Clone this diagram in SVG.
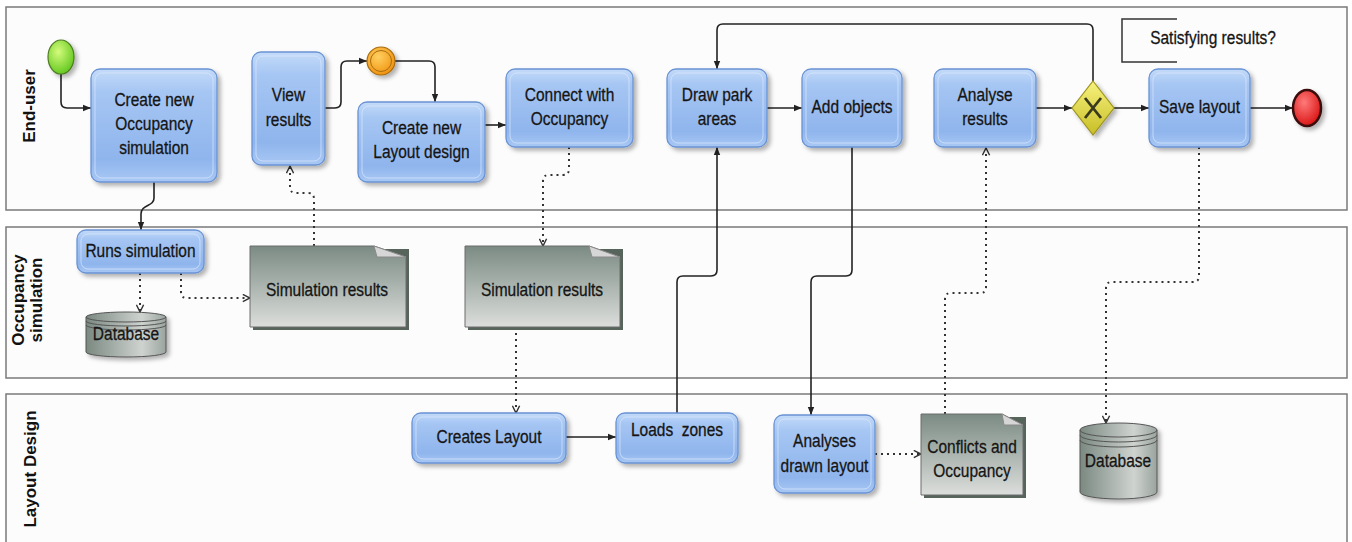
<svg xmlns="http://www.w3.org/2000/svg" width="1352" height="542" viewBox="0 0 1352 542">
  <defs>
    <linearGradient id="taskFill" x1="0" y1="0" x2="0" y2="1">
      <stop offset="0" stop-color="#c4dbf9"/>
      <stop offset="0.2" stop-color="#a6c6f3"/>
      <stop offset="0.8" stop-color="#8fb5ed"/>
      <stop offset="1" stop-color="#a9c8f4"/>
    </linearGradient>
    <linearGradient id="dataFill" x1="0" y1="0" x2="0" y2="1">
      <stop offset="0" stop-color="#7b8b83"/>
      <stop offset="1" stop-color="#dcdedc"/>
    </linearGradient>
    <linearGradient id="dbFill" x1="0" y1="0" x2="1" y2="0">
      <stop offset="0" stop-color="#7a8981"/>
      <stop offset="0.7" stop-color="#cfd3cf"/>
      <stop offset="1" stop-color="#9aa49f"/>
    </linearGradient>
    <linearGradient id="gateFill" x1="0" y1="0" x2="0" y2="1">
      <stop offset="0" stop-color="#f7f27e"/>
      <stop offset="1" stop-color="#c8be26"/>
    </linearGradient>
    <radialGradient id="startFill" cx="0.4" cy="0.35" r="0.7">
      <stop offset="0" stop-color="#d4fb7c"/>
      <stop offset="1" stop-color="#5fc61c"/>
    </radialGradient>
    <radialGradient id="midFill" cx="0.4" cy="0.35" r="0.7">
      <stop offset="0" stop-color="#ffd060"/>
      <stop offset="1" stop-color="#f0900c"/>
    </radialGradient>
    <radialGradient id="endFill" cx="0.4" cy="0.35" r="0.7">
      <stop offset="0" stop-color="#ff7a7a"/>
      <stop offset="1" stop-color="#d81010"/>
    </radialGradient>
    <filter id="shadow" x="-20%" y="-20%" width="150%" height="150%">
      <feDropShadow dx="3" dy="3" stdDeviation="2" flood-color="#000" flood-opacity="0.3"/>
    </filter>
    <marker id="arrow" viewBox="0 0 10 10" refX="10" refY="5" markerWidth="8" markerHeight="8" markerUnits="userSpaceOnUse" orient="auto">
      <path d="M0,1 L10,5 L0,9 Z" fill="#222"/>
    </marker>
    <marker id="open" viewBox="0 0 10 10" refX="9" refY="5" markerWidth="9" markerHeight="9" markerUnits="userSpaceOnUse" orient="auto">
      <path d="M1,1 L9,5 L1,9" fill="none" stroke="#333" stroke-width="1.6"/>
    </marker>
  </defs>
  <style>
    .lane { fill: #fcfcfc; stroke: #7a7a7a; stroke-width: 1.5; }
    .laneLabel { font-family: "Liberation Sans", Arial, sans-serif; font-size: 17px; font-weight: bold; fill: #111; text-anchor: middle; }
    .task { fill: url(#taskFill); stroke: #6a93d4; stroke-width: 1.3; filter: url(#shadow); }
    .taskInner { fill: none; stroke: #dbe8fb; stroke-opacity: 0.7; stroke-width: 1; }
    .t { font-family: "Liberation Sans", Arial, sans-serif; font-size: 15.5px; fill: #151515; stroke: #151515; stroke-width: 0.25; text-anchor: middle; }
    .dataBack { fill: #56645c; }
    .data { fill: url(#dataFill); stroke: #6c6c6c; stroke-width: 1; }
    .fold { fill: #d6d6d6; stroke: #8a8a8a; stroke-width: 1; }
    .db { fill: url(#dbFill); stroke: #555; stroke-width: 1; filter: url(#shadow); }
    .dbLine { fill: none; stroke: #555; stroke-width: 1; }
    .flow { fill: none; stroke: #222; stroke-width: 1.6; marker-end: url(#arrow); }
    .assoc { fill: none; stroke: #333; stroke-width: 2; stroke-dasharray: 2 4; marker-end: url(#open); }
  </style>

  <!-- swimlanes -->
  <g id="lanes">
    <rect class="lane" x="6" y="7" width="1341" height="203"/>
    <rect class="lane" x="6" y="227" width="1341" height="151"/>
    <rect class="lane" x="6" y="394" width="1341" height="152"/>
    <text class="laneLabel" transform="translate(35,106) rotate(-90)">End-user</text>
    <text class="laneLabel" transform="translate(24,300) rotate(-90)">Occupancy</text>
    <text class="laneLabel" transform="translate(42,300) rotate(-90)">simulation</text>
    <text class="laneLabel" transform="translate(36,469) rotate(-90)">Layout Design</text>
  </g>

  <!-- connectors -->
  <g id="connectors">
    <path class="flow" d="M61,74 V102 Q61,108 67,108 H91"/>
    <path class="flow" d="M154,182 V198 C154,207 141,204 141,214 V230"/>
    <path class="flow" d="M325,108 H335 Q341,108 341,102 V67 Q341,61 347,61 H367"/>
    <path class="flow" d="M395,61 H429 Q435,61 435,67 V102"/>
    <path class="flow" d="M485,125 H506"/>
    <path class="flow" d="M767,108 H802"/>
    <path class="flow" d="M1036,108 H1072"/>
    <path class="flow" d="M1114,108 H1149"/>
    <path class="flow" d="M1250,108 H1293"/>
    <path class="flow" d="M1093,81 V30 Q1093,24 1087,24 H723 Q717,24 717,30 V69"/>
    <path class="flow" d="M677,413 V282 Q677,276 683,276 H711 Q717,276 717,270 V147"/>
    <path class="flow" d="M852,147 V270 Q852,276 846,276 H817 Q811,276 811,282 V415"/>
    <path class="flow" d="M566,437 H616"/>

    <path class="assoc" d="M140,273 V312"/>
    <path class="assoc" d="M181,273 V292 Q181,298 187,298 H250"/>
    <path class="assoc" d="M314,246 V199 Q314,193 308,193 H296 Q290,193 290,187 V166"/>
    <path class="assoc" d="M569,147 V169 Q569,175 563,175 H549 Q543,175 543,181 V246"/>
    <path class="assoc" d="M516,327 V413"/>
    <path class="assoc" d="M875,454 H921"/>
    <path class="assoc" d="M945,414 V299 Q945,293 951,293 H980 Q986,293 986,287 V148"/>
    <path class="assoc" d="M1199,147 V276 Q1199,282 1193,282 H1112 Q1106,282 1106,288 V423"/>
  </g>

  <!-- End-user lane -->
  <g id="start">
    <ellipse cx="61" cy="57" rx="13" ry="17" fill="url(#startFill)" stroke="#4d7a22" stroke-width="1.2" filter="url(#shadow)"/>
  </g>
  <g id="create-occupancy">
    <rect class="task" x="91" y="69" width="126" height="113" rx="9"/>
    <rect class="taskInner" x="95" y="73" width="118" height="105" rx="7"/>
    <text class="t" transform="translate(154,106) scale(1,1.15)">Create new</text>
    <text class="t" transform="translate(154,130) scale(1,1.15)">Occupancy</text>
    <text class="t" transform="translate(154,154) scale(1,1.15)">simulation</text>
  </g>
  <g id="view-results">
    <rect class="task" x="252" y="52" width="73" height="113" rx="9"/>
    <rect class="taskInner" x="256" y="56" width="65" height="105" rx="7"/>
    <text class="t" transform="translate(288.5,101) scale(1,1.15)">View</text>
    <text class="t" transform="translate(288.5,126) scale(1,1.15)">results</text>
  </g>
  <g id="intermediate">
    <ellipse cx="381" cy="61" rx="14" ry="14" fill="url(#midFill)" stroke="#a86c10" stroke-width="1.2" filter="url(#shadow)"/>
    <ellipse cx="381" cy="61" rx="10.5" ry="10.5" fill="none" stroke="#a86c10" stroke-width="1"/>
  </g>
  <g id="create-layout">
    <rect class="task" x="358" y="102" width="127" height="80" rx="9"/>
    <rect class="taskInner" x="362" y="106" width="119" height="72" rx="7"/>
    <text class="t" transform="translate(421.5,134) scale(1,1.15)">Create new</text>
    <text class="t" transform="translate(421.5,158) scale(1,1.15)">Layout design</text>
  </g>
  <g id="connect-occupancy">
    <rect class="task" x="506" y="69" width="127" height="78" rx="9"/>
    <rect class="taskInner" x="510" y="73" width="119" height="70" rx="7"/>
    <text class="t" transform="translate(569.5,101) scale(1,1.15)">Connect with</text>
    <text class="t" transform="translate(569.5,125) scale(1,1.15)">Occupancy</text>
  </g>
  <g id="draw-park">
    <rect class="task" x="667" y="69" width="100" height="78" rx="9"/>
    <rect class="taskInner" x="671" y="73" width="92" height="70" rx="7"/>
    <text class="t" transform="translate(717,101) scale(1,1.15)">Draw park</text>
    <text class="t" transform="translate(717,125) scale(1,1.15)">areas</text>
  </g>
  <g id="add-objects">
    <rect class="task" x="802" y="69" width="100" height="78" rx="9"/>
    <rect class="taskInner" x="806" y="73" width="92" height="70" rx="7"/>
    <text class="t" transform="translate(852,113) scale(1,1.15)">Add objects</text>
  </g>
  <g id="analyse-results">
    <rect class="task" x="934" y="69" width="102" height="78" rx="9"/>
    <rect class="taskInner" x="938" y="73" width="94" height="70" rx="7"/>
    <text class="t" transform="translate(985,101) scale(1,1.15)">Analyse</text>
    <text class="t" transform="translate(985,125) scale(1,1.15)">results</text>
  </g>
  <g id="gateway">
    <polygon points="1093,81 1114,108 1093,135 1072,108" fill="url(#gateFill)" stroke="#9d9420" stroke-width="1.2" filter="url(#shadow)"/>
    <path d="M1085,98 L1101,118 M1101,98 L1085,118" stroke="#3a3a1c" stroke-width="2.8" fill="none"/>
  </g>
  <g id="annotation">
    <path d="M1177,19 H1122 V62 H1177" fill="none" stroke="#333" stroke-width="1.5"/>
    <text class="t" transform="translate(1213,44) scale(1,1.15)">Satisfying results?</text>
  </g>
  <g id="save-layout">
    <rect class="task" x="1149" y="69" width="101" height="78" rx="9"/>
    <rect class="taskInner" x="1153" y="73" width="93" height="70" rx="7"/>
    <text class="t" transform="translate(1199.5,113) scale(1,1.15)">Save layout</text>
  </g>
  <g id="end">
    <ellipse cx="1307" cy="108" rx="14" ry="18" fill="url(#endFill)" stroke="#3a0a0a" stroke-width="2.5" filter="url(#shadow)"/>
  </g>

  <!-- Occupancy simulation lane -->
  <g id="runs-simulation">
    <rect class="task" x="77" y="230" width="127" height="43" rx="9"/>
    <rect class="taskInner" x="81" y="234" width="119" height="35" rx="7"/>
    <text class="t" transform="translate(140.5,257) scale(1,1.15)">Runs simulation</text>
  </g>
  <g id="database-1">
    <path class="db" d="M86,317 A40,5 0 0 1 166,317 V352 A40,5 0 0 1 86,352 Z"/>
    <path class="dbLine" d="M86,317 A40,5 0 0 0 166,317 M86,321 A40,5 0 0 0 166,321 M86,325 A40,5 0 0 0 166,325"/>
    <text class="t" transform="translate(126,340) scale(1,1.15)">Database</text>
  </g>
  <g id="sim-results-1">
    <rect class="dataBack" x="253" y="249" width="156" height="81"/>
    <path class="data" d="M250,246 H374 L406,257 V327 H250 Z"/>
    <path class="fold" d="M374,246 L406,257 H377 Z"/>
    <text class="t" transform="translate(327,296) scale(1,1.15)">Simulation results</text>
  </g>
  <g id="sim-results-2">
    <rect class="dataBack" x="468" y="249" width="155" height="81"/>
    <path class="data" d="M465,246 H589 L620,257 V327 H465 Z"/>
    <path class="fold" d="M589,246 L620,257 H592 Z"/>
    <text class="t" transform="translate(542,296) scale(1,1.15)">Simulation results</text>
  </g>

  <!-- Layout Design lane -->
  <g id="creates-layout">
    <rect class="task" x="412" y="413" width="154" height="50" rx="9"/>
    <rect class="taskInner" x="416" y="417" width="146" height="42" rx="7"/>
    <text class="t" transform="translate(489,443) scale(1,1.15)">Creates Layout</text>
  </g>
  <g id="loads-zones">
    <rect class="task" x="616" y="413" width="122" height="50" rx="9"/>
    <rect class="taskInner" x="620" y="417" width="114" height="42" rx="7"/>
    <text class="t" transform="translate(677,436) scale(1,1.15)" xml:space="preserve">Loads  zones</text>
  </g>
  <g id="analyses-layout">
    <rect class="task" x="774" y="415" width="101" height="78" rx="9"/>
    <rect class="taskInner" x="778" y="419" width="93" height="70" rx="7"/>
    <text class="t" transform="translate(824.5,447) scale(1,1.15)">Analyses</text>
    <text class="t" transform="translate(824.5,472) scale(1,1.15)">drawn layout</text>
  </g>
  <g id="conflicts">
    <rect class="dataBack" x="924" y="417" width="102" height="81"/>
    <path class="data" d="M921,414 H1002 L1023,425 V495 H921 Z"/>
    <path class="fold" d="M1002,414 L1023,425 H1004 Z"/>
    <text class="t" transform="translate(972,453) scale(1,1.15)">Conflicts and</text>
    <text class="t" transform="translate(972,477) scale(1,1.15)">Occupancy</text>
  </g>
  <g id="database-2">
    <path class="db" d="M1080,430 A38.5,7 0 0 1 1157,430 V492 A38.5,7 0 0 1 1080,492 Z"/>
    <path class="dbLine" d="M1080,430 A38.5,7 0 0 0 1157,430 M1080,435 A38.5,7 0 0 0 1157,435 M1080,440 A38.5,7 0 0 0 1157,440"/>
    <text class="t" transform="translate(1118,467) scale(1,1.15)">Database</text>
  </g>
</svg>
